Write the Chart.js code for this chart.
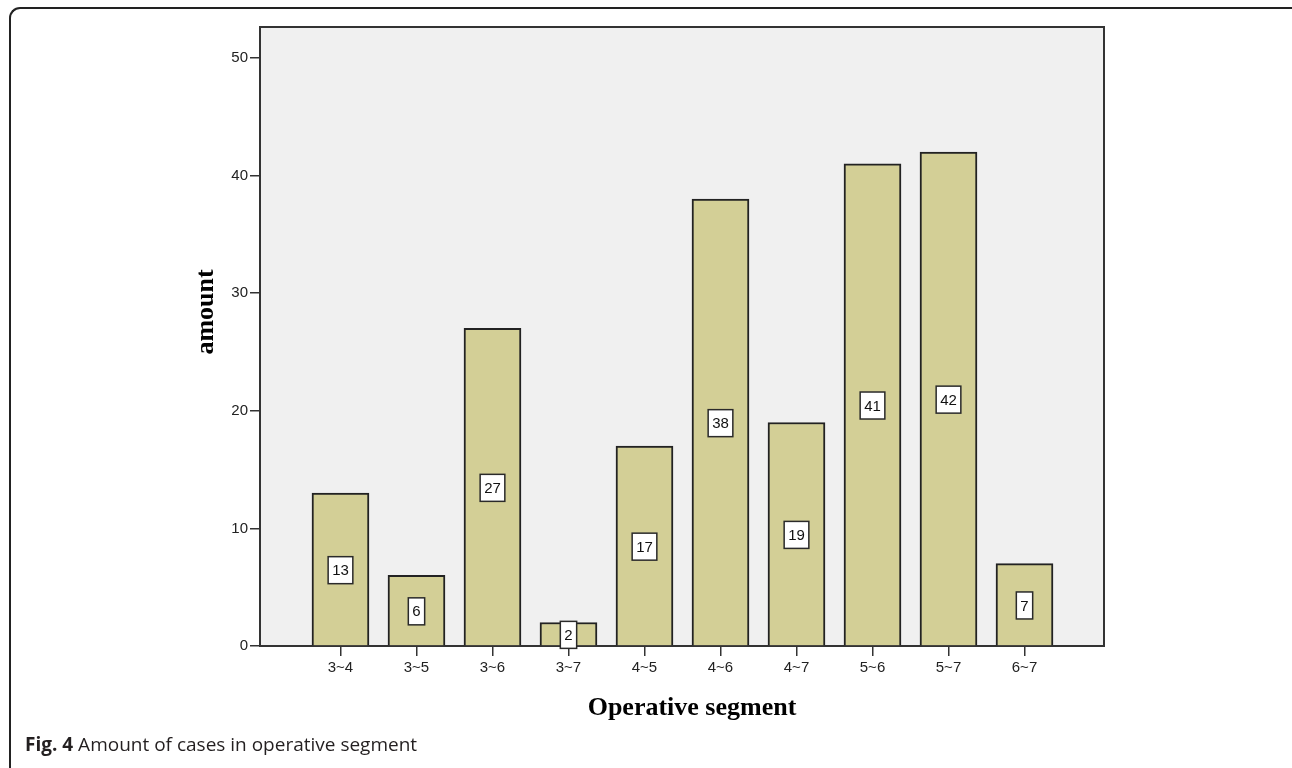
<!DOCTYPE html>
<html>
<head>
<meta charset="utf-8">
<script src="https://cdn.jsdelivr.net/npm/chart.js@4.4.1/dist/chart.umd.min.js"></script>
<style>
  html, body { margin: 0; padding: 0; background: #ffffff; overflow: hidden; }
  #wrap { position: relative; width: 1292px; height: 768px; }
  #frame { position: absolute; left: 9px; top: 7px; width: 1300px; height: 770px;
           border-top: 2px solid #222; border-left: 2px solid #222;
           border-top-left-radius: 11px; border-bottom-left-radius: 10px; box-sizing: border-box; }
  #chart { position: absolute; left: 0; top: 0; }
  #caption { position: absolute; left: 25px; top: 731px; font-family: "Open Sans", sans-serif;
             font-size: 19px; line-height: 26px; color: #231f20; white-space: nowrap; }
  #caption b { font-weight: 700; }
</style>
</head>
<body>
<div id="wrap">
  <div id="frame"></div>
  <canvas id="chart" width="1292" height="768"></canvas>
  <div id="caption"><b>Fig. 4</b> Amount of cases in operative segment</div>
</div>
<script>
const categories = ["3~4", "3~5", "3~6", "3~7", "4~5", "4~6", "4~7", "5~6", "5~7", "6~7"];
const amounts = [13, 6, 27, 2, 17, 38, 19, 41, 42, 7];
const yTicks = [0, 10, 20, 30, 40, 50];
const yTitle = "amount";
const xTitle = "Operative segment";

const barData = categories.map((c, i) => ({ x: i, y: amounts[i] }));

const framePlugin = {
  id: 'framePlugin',
  beforeDraw(chart) {
    const { ctx, chartArea: a } = chart;
    ctx.save();
    ctx.fillStyle = '#f0f0f0';
    ctx.fillRect(a.left, a.top, a.right - a.left, a.bottom - a.top);
    ctx.restore();
  },
  beforeDatasetsDraw(chart) {
    const { ctx, chartArea: a } = chart;
    ctx.save();
    ctx.strokeStyle = '#333';
    ctx.lineWidth = 2;
    ctx.strokeRect(a.left, a.top, a.right - a.left, a.bottom - a.top);
    ctx.restore();
  },
  afterDatasetsDraw(chart) {
    const { ctx } = chart;
    const meta = chart.getDatasetMeta(0);
    ctx.save();
    ctx.font = '15px "Liberation Sans", Arial, sans-serif';
    ctx.textAlign = 'center';
    ctx.textBaseline = 'middle';
    meta.data.forEach((bar, i) => {
      const txt = String(amounts[i]);
      const w = ctx.measureText(txt).width + 8;
      const h = 27;
      const cx = bar.x;
      const cy = (bar.y + bar.base) / 2 + 1;
      ctx.fillStyle = '#ffffff';
      ctx.fillRect(cx - w / 2, cy - h / 2, w, h);
      ctx.strokeStyle = '#2a2a2a';
      ctx.lineWidth = 1.5;
      ctx.strokeRect(cx - w / 2, cy - h / 2, w, h);
      ctx.fillStyle = '#111';
      ctx.fillText(txt, cx, cy + 1);
    });
    ctx.restore();
  },
  afterDraw(chart) {
    const { ctx } = chart;
    ctx.save();
    ctx.fillStyle = '#000';
    ctx.font = 'bold 26px "Liberation Serif", "Times New Roman", serif';
    ctx.textAlign = 'center';
    ctx.textBaseline = 'alphabetic';
    ctx.fillText(xTitle, 692, 715);
    ctx.translate(213, 312);
    ctx.rotate(-Math.PI / 2);
    ctx.fillText(yTitle, 0, 0);
    ctx.restore();
  }
};

new Chart(document.getElementById('chart'), {
  type: 'bar',
  data: {
    datasets: [{
      data: barData,
      backgroundColor: '#d3cf96',
      borderColor: '#222',
      borderWidth: 2,
      barThickness: 57
    }]
  },
  options: {
    responsive: false,
    animation: false,
    devicePixelRatio: 1,
    layout: { padding: { left: 0, top: 27, right: 188, bottom: 0 } },
    plugins: { legend: { display: false }, tooltip: { enabled: false } },
    scales: {
      x: {
        type: 'linear',
        offset: false,
        min: -1.059,
        max: 10.046,
        afterFit(scale) { scale.height = 122; },
        afterBuildTicks(scale) { scale.ticks = categories.map((c, i) => ({ value: i })); },
        grid: { offset: false, drawOnChartArea: false, tickLength: 10, color: '#333', lineWidth: 1.5 },
        border: { display: true, color: '#333', width: 2 },
        ticks: {
          autoSkip: false,
          maxRotation: 0,
          padding: 3,
          color: '#222',
          font: { family: '"Liberation Sans", Arial, sans-serif', size: 15 },
          callback: (v) => categories[v]
        }
      },
      y: {
        min: 0,
        max: 52.63,
        afterFit(scale) { scale.width = 260; },
        afterBuildTicks(scale) { scale.ticks = yTicks.map(v => ({ value: v })); },
        grid: { drawOnChartArea: false, tickLength: 10, color: '#333', lineWidth: 1.5 },
        border: { display: true, color: '#333', width: 2 },
        ticks: {
          padding: 2,
          color: '#222',
          font: { family: '"Liberation Sans", Arial, sans-serif', size: 15 }
        }
      }
    }
  },
  plugins: [framePlugin]
});
</script>
</body>
</html>
